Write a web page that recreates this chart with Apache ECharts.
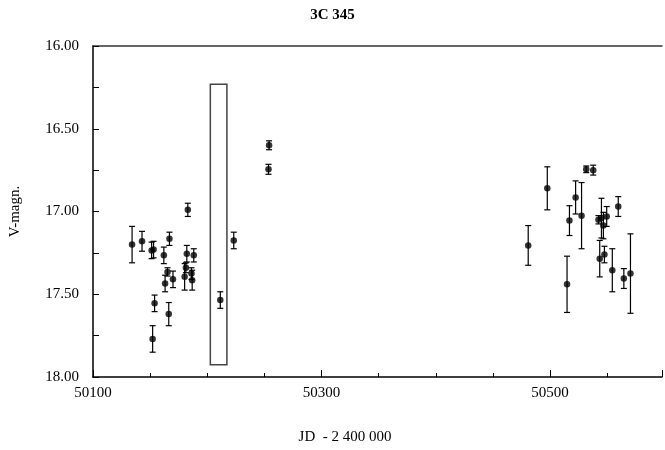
<!DOCTYPE html>
<html>
<head>
<meta charset="utf-8">
<script src="https://cdn.jsdelivr.net/npm/echarts@6/dist/echarts.min.js"></script>
<style>html,body{margin:0;padding:0;background:#fff}#main{width:665px;height:450px}</style>
</head>
<body>
<div id="main"></div>
<script>
// JD - 2 400 000
var jd = [50134.2, 50142.9, 50151.3, 50153.0, 50152.2, 50153.9, 50162.0, 50163.1, 50165.2, 50166.9,
	50166.3, 50170.0, 50183.0, 50182.1, 50180.2, 50181.3, 50186.2, 50186.8, 50188.2, 50211.4,
	50223.2, 50253.6, 50254.1, 50480.9, 50497.6, 50517.0, 50514.9, 50522.4, 50527.6, 50531.7,
	50537.8, 50542.4, 50545.0, 50546.7, 50549.6, 50543.5, 50547.6, 50554.5, 50559.7, 50564.6, 50570.4];
// V magnitude
var mag = [17.20, 17.18, 17.235, 17.23, 17.77, 17.555, 17.265, 17.435, 17.365, 17.165,
	17.62, 17.41, 16.99, 17.255, 17.395, 17.34, 17.375, 17.415, 17.265, 17.535,
	17.175, 16.745, 16.60, 17.205, 16.86, 17.055, 17.44, 16.915, 17.025, 16.745,
	16.75, 17.05, 17.04, 17.085, 17.03, 17.285, 17.26, 17.355, 16.97, 17.405, 17.375];
// error (half length of bar)
var err = [0.11, 0.06, 0.05, 0.05, 0.08, 0.05, 0.05, 0.05, 0.025, 0.04,
	0.07, 0.05, 0.04, 0.05, 0.08, 0.03, 0.035, 0.06, 0.04, 0.05,
	0.05, 0.03, 0.027, 0.12, 0.13, 0.09, 0.17, 0.1, 0.2, 0.02,
	0.03, 0.025, 0.12, 0.08, 0.06, 0.11, 0.05, 0.13, 0.06, 0.06, 0.24];
// the open box
var boxJd = [50202.7, 50217.2];
var boxMag = [16.231, 17.926];

var font = 'Liberation Serif';

var points = [];
var bars = [];
for (var i = 0; i < jd.length; i++) {
	points.push([jd[i], mag[i]]);
	bars.push([jd[i], mag[i] - err[i], mag[i] + err[i]]);
}

var chart = echarts.init(document.getElementById('main'));

var option = {
	animation : false,
	title : {
		text : '3C 345',
		left : 'center',
		top : 3,
		textStyle : { fontFamily : font, fontSize : 15, fontWeight : 'bold', color : '#000' }
	},
	grid : { left : 90, right : 0, top : 46, bottom : 72 },
	xAxis : [ {
		type : 'value',
		min : 50100,
		max : 50598,
		interval : 50,
		name : 'JD  - 2 400 000',
		nameLocation : 'middle',
		nameGap : 53,
		nameTextStyle : { fontFamily : font, fontSize : 15, color : '#000', padding : [0, 65, 0, 0] },
		axisLine : { lineStyle : { color : '#000', width : 1.5 } },
		axisTick : { inside : true, length : 4, lineStyle : { color : '#000' } },
		axisLabel : {
			fontFamily : font, fontSize : 15, color : '#000', margin : 9,
			formatter : function(v) {
				return (Math.round(v - 50100) % 200 === 0) ? String(v) : '';
			}
		},
		splitLine : { show : false }
	}, {
		type : 'value',
		position : 'bottom',
		min : 50100,
		max : 50598,
		interval : 200,
		axisLine : { show : false },
		axisTick : { inside : true, length : 7, lineStyle : { color : '#000' } },
		axisLabel : { show : false },
		splitLine : { show : false }
	}, {
		type : 'value',
		position : 'top',
		min : 50100,
		max : 50598,
		axisLine : { lineStyle : { color : '#333', width : 1.5 } },
		axisTick : { show : false },
		axisLabel : { show : false },
		splitLine : { show : false }
	} ],
	yAxis : [ {
		type : 'value',
		inverse : true,
		min : 16,
		max : 18,
		interval : 0.25,
		name : 'V-magn.',
		nameLocation : 'middle',
		nameGap : 70,
		nameRotate : 90,
		nameTextStyle : { fontFamily : font, fontSize : 15, color : '#000' },
		axisLine : { show : true, lineStyle : { color : '#000', width : 1.5 } },
		axisTick : { show : true, inside : true, length : 6, lineStyle : { color : '#000' } },
		axisLabel : {
			fontFamily : font, fontSize : 15, color : '#000', margin : 14,
			formatter : function(v) {
				return (Math.round(v * 100) % 50 === 0) ? v.toFixed(2) : '';
			}
		},
		splitLine : { show : false }
	} ],
	series : [ {
		type : 'custom',
		name : 'box',
		xAxisIndex : 0,
		data : [ [ boxJd[0], boxMag[0], boxJd[1], boxMag[1] ] ],
		encode : { x : [0, 2], y : [1, 3] },
		renderItem : function(params, api) {
			var a = api.coord([ api.value(0), api.value(1) ]);
			var b = api.coord([ api.value(2), api.value(3) ]);
			return {
				type : 'rect',
				shape : { x : a[0], y : a[1], width : b[0] - a[0], height : b[1] - a[1] },
				style : { fill : 'none', stroke : '#444', lineWidth : 1.5 }
			};
		},
		silent : true
	}, {
		type : 'custom',
		name : 'errors',
		xAxisIndex : 0,
		data : bars,
		encode : { x : 0, y : [1, 2] },
		renderItem : function(params, api) {
			var x = api.value(0);
			var p1 = api.coord([ x, api.value(1) ]);
			var p2 = api.coord([ x, api.value(2) ]);
			var w = 3;
			var st = { stroke : '#000', lineWidth : 1.2 };
			return {
				type : 'group',
				children : [
					{ type : 'line', shape : { x1 : p1[0], y1 : p1[1], x2 : p2[0], y2 : p2[1] }, style : st },
					{ type : 'line', shape : { x1 : p1[0] - w, y1 : p1[1], x2 : p1[0] + w, y2 : p1[1] }, style : st },
					{ type : 'line', shape : { x1 : p2[0] - w, y1 : p2[1], x2 : p2[0] + w, y2 : p2[1] }, style : st }
				]
			};
		},
		silent : true
	}, {
		type : 'scatter',
		name : '3C 345',
		xAxisIndex : 0,
		data : points,
		symbol : 'circle',
		symbolSize : 6.5,
		itemStyle : { color : '#000' }
	} ]
};
chart.setOption(option);
</script>
</body>
</html>
